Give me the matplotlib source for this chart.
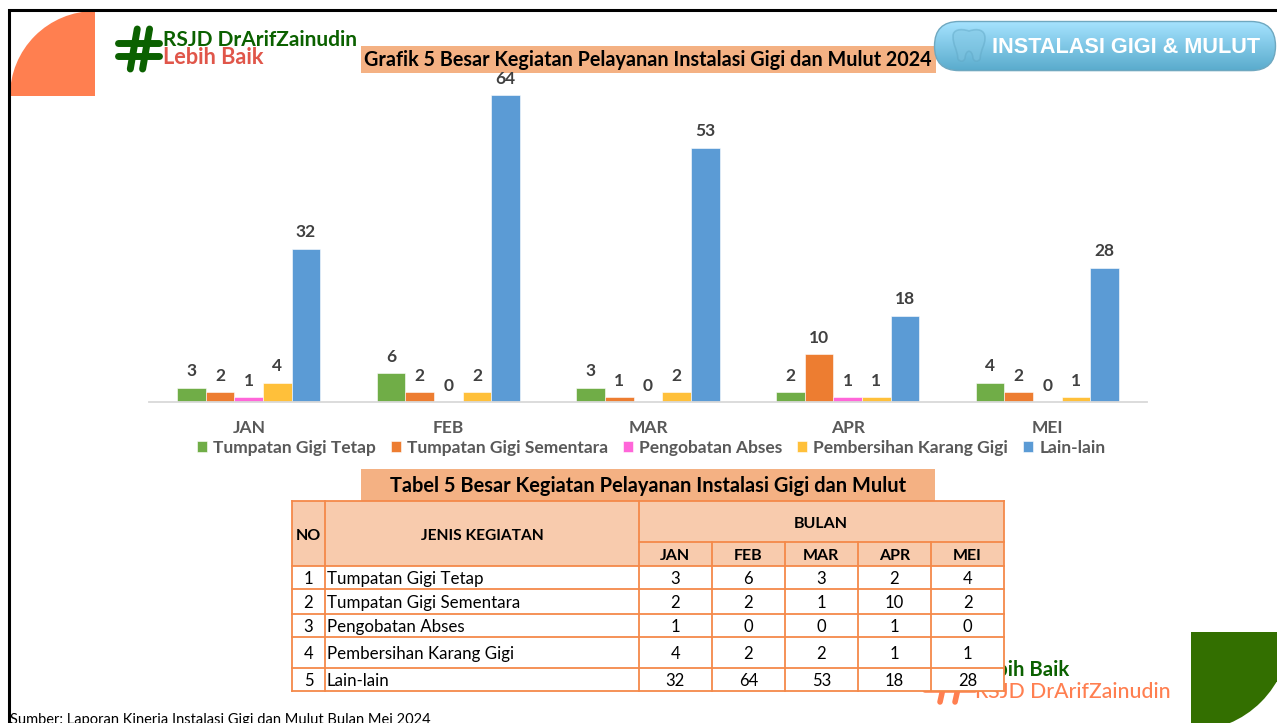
import numpy as np
from matplotlib import pyplot as plt
from matplotlib.patches import Rectangle, Wedge, FancyBboxPatch, PathPatch
from matplotlib.path import Path
from matplotlib.transforms import Affine2D

# Data
months = ['JAN', 'FEB', 'MAR', 'APR', 'MEI']
activities = ['Tumpatan Gigi Tetap', 'Tumpatan Gigi Sementara', 'Pengobatan Abses', 'Pembersihan Karang Gigi', 'Lain-lain']
tumpatan_tetap = [3, 6, 3, 2, 4]
tumpatan_sementara = [2, 2, 1, 10, 2]
pengobatan_abses = [1, 0, 0, 1, 0]
pembersihan_karang = [4, 2, 2, 1, 1]
lain_lain = [32, 64, 53, 18, 28]
series = [tumpatan_tetap, tumpatan_sementara, pengobatan_abses, pembersihan_karang, lain_lain]
colors = ['#70AD47', '#ED7D31', '#FF66D9', '#FFC03A', '#5B9BD5']

W, H = 1277, 723
plt.rcParams['font.family'] = ['Lato', 'DejaVu Sans']
fig = plt.figure(figsize=(W / 100, H / 100), dpi=100, facecolor='white')

# Pixel-coordinate layer for the slide decoration and the table
bg = fig.add_axes([0, 0, 1, 1])
bg.axis('off')

# Slide frame
bg.plot([9, 9, W], [H, 10, 10], color='black', lw=2.2, solid_joinstyle='miter')

# Corner shapes
bg.add_patch(Wedge((95, 96), 85, 180, 270, fc='#FF7F50', ec='none'))
bg.add_patch(Wedge((1191, 632), 99, 0, 90, fc='#336F00', ec='none'))
bg.add_patch(Rectangle((1191, 632), 86, 50, fc='#336F00', ec='none'))


def hash_mark(x0, y0, w, h, color, lw):
    for y in [0.36, 0.68]:
        bg.plot([x0, x0 + w], [y0 + y * h, y0 + y * h], color=color, lw=lw, solid_capstyle='round')
    for x in [0.42, 0.72]:
        bg.plot([x0 + (x + 0.05) * w, x0 + (x - 0.12) * w], [y0, y0 + h], color=color, lw=lw, solid_capstyle='round')


# Top logo
hash_mark(118, 29, 41, 40, '#0B6100', 5)
bg.text(163, 40, 'RSJD DrArifZainudin', color='#0B6100', fontsize=15, fontweight='bold', va='center', ha='left')
bg.text(163, 58, 'Lebih Baik', color='#E0564A', fontsize=15.7, fontweight='bold', va='center', ha='left')

# Bottom logo, partly hidden by the table
hash_mark(925, 664, 50, 38, '#FF7F50', 4)
bg.text(975, 670, 'Lebih Baik', color='#0B6100', fontsize=14.6, fontweight='bold', va='center', ha='left')
bg.text(975, 692, 'RSJD DrArifZainudin', color='#FF7F50', fontsize=15.2, fontweight='medium', va='center', ha='left')

# Chart title
bg.add_patch(Rectangle((361, 46), 575, 27, fc='#F4B183', ec='none'))
bg.text(648, 60, 'Grafik 5 Besar Kegiatan Pelayanan Instalasi Gigi dan Mulut 2024', color='black',
        fontsize=14.2, fontweight='bold', ha='center', va='center')

# Badge with a vertical gradient
top, bottom = np.array([0.65, 0.89, 1.0]), np.array([0.35, 0.67, 0.80])
shades = np.linspace(0, 1, 50)[:, None, None]
img = top[None, None, :] * (1 - shades) + bottom[None, None, :] * shades
im = bg.imshow(img, extent=(934, 1277, 71, 21), aspect='auto', zorder=2)
badge = FancyBboxPatch((959, 46), 292, 0.1, boxstyle='round,pad=24.5,rounding_size=24.5',
                       fc='none', ec='#6FA8C0', lw=1, zorder=3)
bg.add_patch(badge)
im.set_clip_path(badge)
bg.set_xlim(0, W)
bg.set_ylim(H, 0)

# Tooth icon
tooth = Path([(0, 8), (0, 2), (7, 0), (16, 3), (25, 0), (32, 2), (32, 10), (32, 18), (28, 20), (27, 31),
              (25, 34), (21, 34), (20, 30), (19, 21), (13, 21), (12, 30), (11, 34), (7, 34), (5, 31), (4, 20), (0, 18), (0, 8)],
             [Path.MOVETO] + [Path.CURVE4] * 21)
tooth = tooth.transformed(Affine2D().translate(953, 28) + bg.transData)
bg.add_patch(PathPatch(tooth, transform=None, fc='#7FC4E0', alpha=0.45, ec='#5FA6C4', lw=1.2, zorder=4))

bg.text(992, 47.5, 'INSTALASI GIGI & MULUT', color='white', family='Liberation Sans', fontsize=15.6,
        fontweight='bold', ha='left', va='center', zorder=5)

# Bar chart, axes spans the pixel extent of the plot area
ax = fig.add_axes([149 / W, (H - 402) / H, 998 / W, 307 / H])
ax.patch.set_alpha(0)
x = np.arange(len(months))
width = 0.1433
for i, vals in enumerate(series):
    bars = ax.bar(x + (i - 2) * width, vals, width, color=colors[i], label=activities[i],
                  edgecolor='white', linewidth=0.4)
    ax.bar_label(bars, padding=6, fontsize=12.5, fontweight='bold', color='#404040')
ax.set_xlim(-0.5, 4.5)
ax.set_ylim(0, 64)
ax.set_yticks([])
ax.set_xticks(x, months)
ax.tick_params(axis='x', length=0, pad=13, labelsize=12.5, labelcolor='#595959')
for lab in ax.get_xticklabels():
    lab.set_fontweight('bold')
for s in ['top', 'left', 'right']:
    ax.spines[s].set_visible(False)
ax.spines['bottom'].set_color('#D9D9D9')
ax.spines['bottom'].set_linewidth(1.3)

leg = ax.legend(ncol=5, loc='center', bbox_to_anchor=((651 - 149) / 998, -46 / 307), frameon=False,
                fontsize=12.5, handlelength=0.58, handleheight=0.58, handletextpad=0.35, columnspacing=0.86,
                borderpad=0, borderaxespad=0)
for t in leg.get_texts():
    t.set_color('#595959')
    t.set_fontweight('bold')

# Table
head_fill = '#F8CBAD'
line = '#F4894A'
col_x = [292, 325, 638.5, 711.7, 785, 857.7, 931, 1004]
row_y = [565.5, 589, 613.7, 637, 667.7, 691]

bg.add_patch(Rectangle((361, 469), 574, 32, fc='#F4B183', ec='none', zorder=6))
bg.text(648, 486.5, 'Tabel 5 Besar Kegiatan Pelayanan Instalasi Gigi dan Mulut', color='black',
        fontsize=14.4, fontweight='bold', ha='center', va='center', zorder=7)
bg.add_patch(Rectangle((292, 501), 712, 64.5, fc=head_fill, ec='none', zorder=6))
bg.add_patch(Rectangle((292, 565.5), 712, 125.5, fc='white', ec='none', zorder=6))

lk = dict(color=line, lw=1.3, zorder=8)
for y in [501, 565.5] + row_y[1:]:
    bg.plot([292, 1004], [y, y], **lk)
bg.plot([638.5, 1004], [542, 542], **lk)
for xv in [292, 325, 638.5, 1004]:
    bg.plot([xv, xv], [501, 691], **lk)
for xv in col_x[3:7]:
    bg.plot([xv, xv], [542, 691], **lk)

tk = dict(ha='center', va='center', zorder=9, color='black')
bg.text(308.5, 535.5, 'NO', fontsize=11.5, fontweight='bold', **tk)
bg.text(482, 535.5, 'JENIS KEGIATAN', fontsize=11.2, fontweight='bold', **tk)
bg.text(821, 524.5, 'BULAN', fontsize=11.5, fontweight='bold', **tk)
for j, m in enumerate(months):
    cx = (col_x[j + 2] + col_x[j + 3]) / 2
    bg.text(cx, 556.5, m, fontsize=11.5, fontweight='bold', **tk)
for r, name in enumerate(activities):
    cy = (row_y[r] + row_y[r + 1]) / 2 + 2
    bg.text(308.5, cy, str(r + 1), fontsize=12, **tk)
    bg.text(327, cy, name, fontsize=12.2, ha='left', va='center', zorder=9, color='black')
    for j in range(5):
        cx = (col_x[j + 2] + col_x[j + 3]) / 2
        bg.text(cx, cy, str(series[r][j]), fontsize=12, **tk)

# Source note, cut by the bottom edge in the reference
fig.text(10 / W, 1 - 720 / H, 'Sumber: Laporan Kinerja Instalasi Gigi dan Mulut Bulan Mei 2024', fontsize=10.5,
         color='black', ha='left', va='center')

fig.savefig('out.png', dpi=100)
